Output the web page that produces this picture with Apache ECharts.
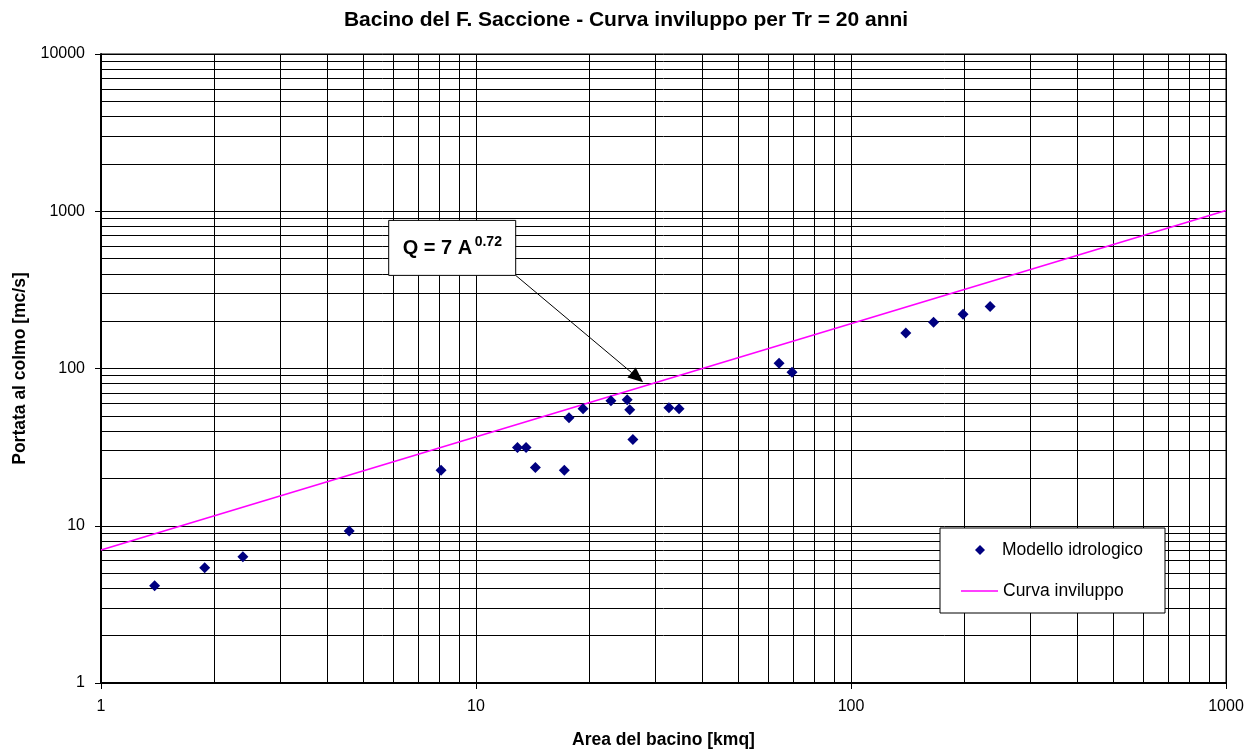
<!DOCTYPE html>
<html><head><meta charset="utf-8">
<script src="https://cdn.jsdelivr.net/npm/echarts@6/dist/echarts.min.js"></script>
<style>html,body{margin:0;padding:0;background:#fff}#c{width:1247px;height:754px}</style>
</head><body><div id="c"></div>
<script>
// ---- data ----
const chartTitle = 'Bacino del F. Saccione - Curva inviluppo per Tr = 20 anni';
const xAxisName = 'Area del bacino [kmq]';
const yAxisName = 'Portata al colmo [mc/s]';
const seriesNames = ['Modello idrologico', 'Curva inviluppo'];
const areaKmq = [1.39, 1.89, 2.39, 4.59, 8.07, 12.9, 13.6, 14.4, 17.2, 17.7, 19.3, 22.9, 25.3, 25.7, 26.2, 32.7, 34.8, 64.3, 69.6, 140, 166, 199, 235];
const portata = [4.16, 5.41, 6.35, 9.26, 22.5, 31.5, 31.5, 23.5, 22.5, 48.7, 55.5, 62.3, 63.2, 54.7, 35.3, 56.3, 55.5, 108, 94.6, 168, 197, 221, 248];
const envelopeArea = [1, 1000];
const envelopeQ = [7, 1012];
const xMinor = [2,3,4,5,6,7,8,9,20,30,40,50,60,70,80,90,200,300,400,500,600,700,800,900];
const yMinor = [2,3,4,5,6,7,8,9,20,30,40,50,60,70,80,90,200,300,400,500,600,700,800,900,2000,3000,4000,5000,6000,7000,8000,9000];
const eqMain = 'Q = 7 A';
const eqExp = '0.72';
const arrowFrom = [12.76, 391];   // box corner (data space)
const arrowTo = [27.9, 81.8];     // arrow tip (data space)

const FONT = "'Liberation Sans', Arial, sans-serif";
const chart = echarts.init(document.getElementById('c'), null, {renderer: 'canvas'});

const scatterData = areaKmq.map((a, i) => [a, portata[i]]);
const envData = envelopeArea.map((a, i) => [a, envelopeQ[i]]);
const minorStyle = {color: '#000', width: 1, type: 'solid'};
const legendText = {fontFamily: FONT, fontSize: 17.5, color: '#000', lineHeight: 18};

const option = {
  animation: false,
  backgroundColor: '#fff',
  title: {
    text: chartTitle, left: 626, top: 10, textAlign: 'center', padding: 0,
    textStyle: {fontFamily: FONT, fontSize: 21, fontWeight: 'bold', color: '#000'}
  },
  grid: {left: 101, top: 54, right: 21, bottom: 67, show: true, borderColor: '#000', borderWidth: 1, backgroundColor: '#fff'},
  legend: [
    {
      orient: 'vertical', left: 975, top: 541, padding: 0,
      itemWidth: 10, itemHeight: 10, itemGap: 0,
      textStyle: Object.assign({}, legendText, {padding: [0, 0, 0, 12]}),
      data: [{name: seriesNames[0], icon: 'diamond'}]
    },
    {
      orient: 'vertical', left: 961, top: 582, padding: 0,
      itemWidth: 37, itemHeight: 1.5, itemGap: 0,
      textStyle: legendText,
      data: [{name: seriesNames[1], icon: 'rect'}]
    }
  ],
  xAxis: {
    type: 'log', logBase: 10, min: 1, max: 1000, splitNumber: 3,
    name: xAxisName, nameLocation: 'middle', nameGap: 48,
    nameTextStyle: {fontFamily: FONT, fontSize: 17.5, fontWeight: 'bold', color: '#000'},
    axisLine: {lineStyle: {color: '#000', width: 2}},
    axisTick: {show: true, inside: false, length: 6, lineStyle: {color: '#000'}},
    axisLabel: {fontFamily: FONT, fontSize: 16, color: '#000', margin: 16, formatter: v => String(Math.round(v))},
    splitLine: {show: true, lineStyle: {color: '#000', width: 1}},
    minorTick: {show: false}, minorSplitLine: {show: false}
  },
  yAxis: {
    type: 'log', logBase: 10, min: 1, max: 10000, splitNumber: 4,
    name: yAxisName, nameLocation: 'middle', nameGap: 70, nameRotate: 90,
    nameTextStyle: {fontFamily: FONT, fontSize: 17.5, fontWeight: 'bold', color: '#000'},
    axisLine: {lineStyle: {color: '#000', width: 2}},
    axisTick: {show: true, inside: false, length: 6, lineStyle: {color: '#000'}},
    axisLabel: {fontFamily: FONT, fontSize: 16, color: '#000', margin: 16, formatter: v => String(Math.round(v))},
    splitLine: {show: true, lineStyle: {color: '#000', width: 1}},
    minorTick: {show: false}, minorSplitLine: {show: false}
  },
  series: [
    {
      name: '_grid', type: 'line', data: [], z: 1, silent: true, legendHoverLink: false,
      markLine: {
        silent: true, symbol: ['none', 'none'], z: 1, animation: false,
        label: {show: false}, emphasis: {disabled: true}, lineStyle: minorStyle,
        data: xMinor.map(v => ({xAxis: v})).concat(yMinor.map(v => ({yAxis: v})))
      }
    },
    {
      name: seriesNames[1], type: 'line', data: envData, z: 3,
      symbol: 'none', showSymbol: false,
      lineStyle: {color: '#FF00FF', width: 1.6}, itemStyle: {color: '#FF00FF'}
    },
    {
      name: seriesNames[0], type: 'scatter', data: scatterData, z: 4,
      symbol: 'diamond', symbolSize: 11, itemStyle: {color: '#000080', opacity: 1}
    }
  ]
};
chart.setOption(option);

// annotation anchored to data coordinates + legend frame
const p0 = chart.convertToPixel({gridIndex: 0}, arrowFrom);
const p1 = chart.convertToPixel({gridIndex: 0}, arrowTo);
const boxW = 127, boxH = 55;
const bx = p0[0] - boxW, by = p0[1] - boxH;
const dx = p1[0] - p0[0], dy = p1[1] - p0[1];
const len = Math.sqrt(dx * dx + dy * dy), ux = dx / len, uy = dy / len;
const headL = 15, headW = 6.5;
const baseX = p1[0] - ux * headL, baseY = p1[1] - uy * headL;
chart.setOption({
  graphic: [
    {type: 'rect', z: 3, shape: {x: 940, y: 528, width: 225, height: 85}, style: {fill: '#fff', stroke: '#000', lineWidth: 1}},
    {type: 'line', z: 100, shape: {x1: p0[0], y1: p0[1], x2: baseX, y2: baseY}, style: {stroke: '#000', lineWidth: 1}},
    {type: 'polygon', z: 100, shape: {points: [[p1[0], p1[1]], [baseX - uy * headW, baseY + ux * headW], [baseX + uy * headW, baseY - ux * headW]]}, style: {fill: '#000'}},
    {type: 'rect', z: 100, shape: {x: bx, y: by, width: boxW, height: boxH}, style: {fill: '#fff', stroke: '#000', lineWidth: 1}},
    {type: 'text', z: 101, x: bx + 14, y: by + 28, style: {text: eqMain, font: "bold 20px " + FONT, fill: '#000', verticalAlign: 'middle', align: 'left'}},
    {type: 'text', z: 101, x: bx + 86, y: by + 22, style: {text: eqExp, font: "bold 14px " + FONT, fill: '#000', verticalAlign: 'middle', align: 'left'}}
  ]
});
</script>
</body></html>
